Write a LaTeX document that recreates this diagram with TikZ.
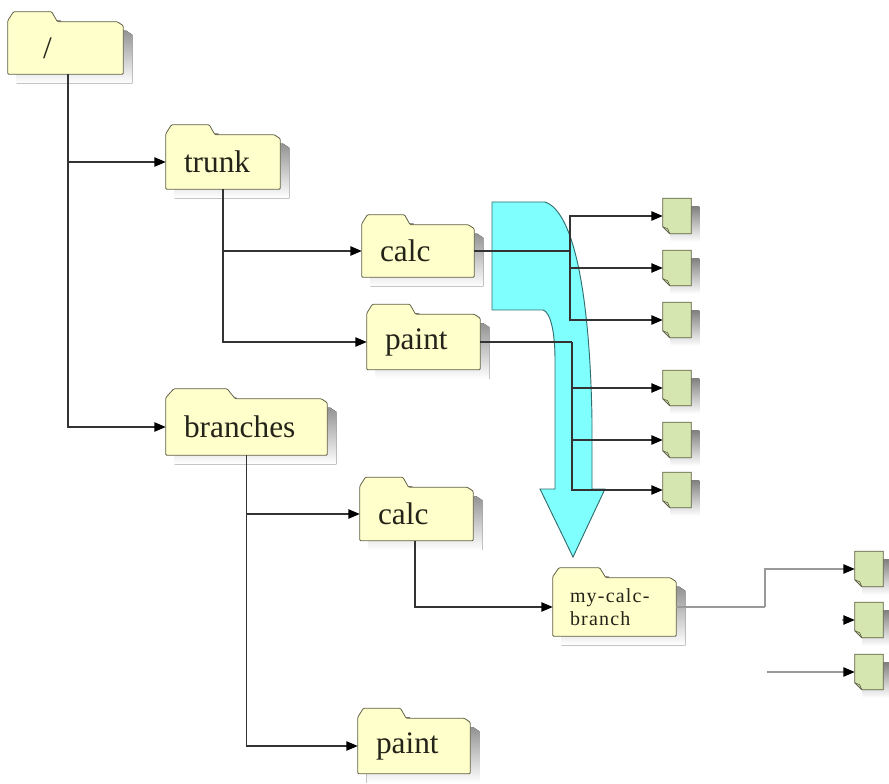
\documentclass[tikz,border=0pt]{standalone}
\usepackage{fontspec}
\setmainfont{Liberation Serif}
\usetikzlibrary{arrows.meta,calc}
\pgfdeclarelayer{bg}
\pgfsetlayers{bg,main}
\definecolor{fold}{RGB}{255,255,204}
\definecolor{foldline}{RGB}{96,96,72}
\definecolor{shade}{RGB}{118,118,118}
\definecolor{filefill}{RGB}{214,230,176}
\definecolor{cyanfill}{RGB}{128,255,255}
\definecolor{cyanline}{RGB}{50,110,110}
\definecolor{txt}{RGB}{35,35,25}
\tikzset{
  folder/.style n args={3}{minimum width=#1*0.75pt, minimum height=#2*0.75pt,
    text width=#3, inner xsep=13.5pt, inner ysep=0pt, align=left,
    font=\fontsize{23.5}{26}\selectfont, text=txt},
  filebox/.style={minimum width=21pt, minimum height=26.25pt, inner sep=0pt},
  plain/.style={line width=0.9pt, draw=black!80},
  conn/.style={plain, -{Triangle[length=8.5pt,width=7pt,color=black]}},
  gplain/.style={line width=0.9pt, draw=black!40},
  gconn/.style={gplain, -{Triangle[length=8.5pt,width=7pt,color=black]}},
  foldshape/.style={fill=fold, draw=foldline, line width=0.6pt, rounded corners=0.8pt},
  fileshape/.style={fill=filefill, draw=foldline, line width=0.6pt},
}
\newcommand\folderpath[3]{%
  ($(#1.south west)+(#2,#3)$) --
  ($(#1.north west)+(#2,#3-1)$) --
  ($(#1.north west)!0.05!(#1.north east)+(#2,#3-10)$) --
  ($(#1.north west)!0.38!(#1.north east)+(#2,#3-10)$) --
  ($(#1.north west)!0.43!(#1.north east)+(#2,#3)$) --
  ($(#1.north east)+(#2-6,#3)$) --
  ($(#1.north east)+(#2,#3+4)$) --
  ($(#1.south east)+(#2,#3)$) -- cycle}
\newcommand\drawfolder[1]{%
  \begin{pgfonlayer}{bg}
    \fill[shade] \folderpath{#1}{9}{9};
    \path[foldshape] \folderpath{#1}{0}{0};
  \end{pgfonlayer}}
\newcommand\drawfile[1]{%
  \begin{pgfonlayer}{bg}
    \fill[shade] ($(#1.north west)+(8,8)$) rectangle ($(#1.south east)+(8,8)$);
    \path[fileshape] (#1.north west) -- (#1.north east) -- (#1.south east) --
      ($(#1.south west)+(7,0)$) -- ($(#1.south west)+(0,-7)$) -- cycle;
    \draw[foldline, line width=0.5pt] ($(#1.south west)+(0,-7)$) -- ($(#1.south west)+(5,-5)$) -- ($(#1.south west)+(7,0)$);
  \end{pgfonlayer}}
\begin{document}
\begin{tikzpicture}[x=0.75pt,y=-0.75pt]
\useasboundingbox (0,0) rectangle (889,784);
% folders
\node[folder={115}{52}{33.75pt}, inner xsep=26.25pt] (root) at (65.5,48) {/};
\node[folder={114}{54}{58.5pt}] (trunk) at (223,162) {trunk};
\node[folder={112}{52}{57pt}] (calc1) at (418,251) {calc};
\node[folder={113}{55}{57.75pt}] (paint1) at (423.5,342) {paint};
\node[folder={161}{56}{93.75pt}] (branches) at (246.5,427) {branches};
\node[folder={113}{53}{57.75pt}] (calc2) at (416.5,514) {calc};
\node[folder={112}{55}{57pt}] (paint2) at (414,746) {paint};
\node[folder={123}{58}{66.75pt}, inner xsep=12.75pt,
  font=\fontsize{15}{17}\selectfont\addfontfeature{LetterSpace=6}] (mcb) at (614.5,607) {my-calc-\\branch};
\foreach \n in {root,trunk,calc1,paint1,branches,calc2,paint2,mcb} {\drawfolder{\n}}
% files
\node[filebox] (f1) at (677,216) {};
\node[filebox] (f2) at (677,268) {};
\node[filebox] (f3) at (677,320) {};
\node[filebox] (f4) at (677,388) {};
\node[filebox] (f5) at (677,440) {};
\node[filebox] (f6) at (677,490) {};
\node[filebox] (g1) at (869,569) {};
\node[filebox] (g2) at (869,620) {};
\node[filebox] (g3) at (869,672) {};
\foreach \n in {f1,f2,f3,f4,f5,f6,g1,g2,g3} {\drawfile{\n}}
% cyan arrow
\draw[fill=cyanfill, draw=cyanline, line width=0.7pt]
  (492,202) -- (545,202) .. controls (575,212) and (590,300) .. (592,420)
  -- (592,489) -- (605,489) -- (573,557) -- (540,489) -- (555,489)
  -- (555,360) .. controls (555,330) and (550,312) .. (543,310)
  -- (492,310) -- cycle;
% connectors
\coordinate (rj) at ($(root.south)+(2.5,0)$);
\draw[conn] (rj) |- (trunk);
\draw[conn] (rj) |- (branches);
\draw[conn] (trunk.south) |- (calc1);
\draw[conn] (trunk.south) |- (paint1);
\draw[conn] (branches.south) |- (calc2);
\draw[conn] (branches.south) |- (paint2);
\draw[conn] ($(calc2.south)+(-1.5,0)$) |- (mcb);
\coordinate (j1) at (570,251);
\draw[plain] (calc1.east) -- (j1);
\draw[conn] (j1) |- (f1);
\draw[conn] (j1) |- (f2);
\draw[conn] (j1) |- (f3);
\coordinate (j2) at (572,342);
\draw[plain] (paint1.east) -- (j2);
\draw[conn] (j2) |- (f4);
\draw[conn] (j2) |- (f5);
\draw[conn] (j2) |- (f6);
\coordinate (j3) at (765,607);
\draw[gplain] (mcb.east) -- (j3);
\draw[gconn] (j3) |- (g1);
\coordinate (s2) at (842,620);
\draw[gconn] (s2) -- (g2);
\coordinate (s3) at (767,672);
\draw[gconn] (s3) -- (g3);
\end{tikzpicture}
\end{document}
